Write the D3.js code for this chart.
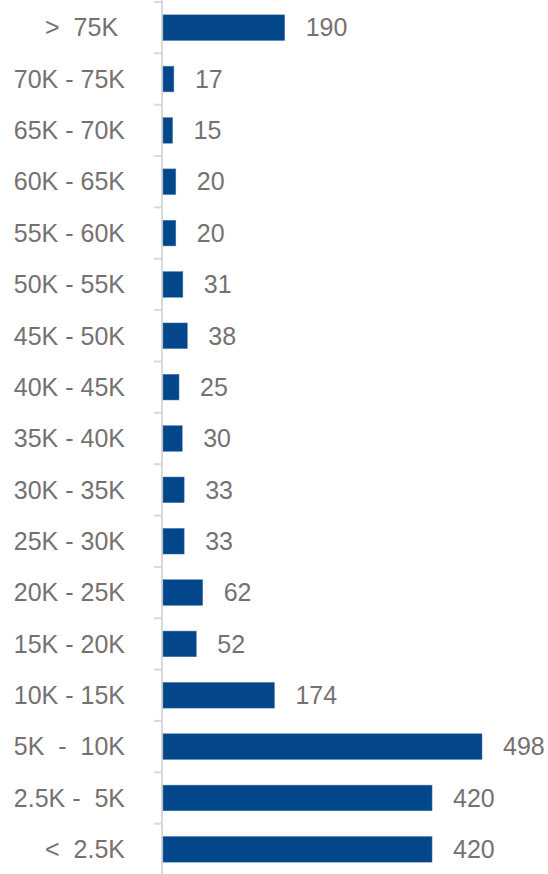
<!DOCTYPE html>
<html>
<head>
<meta charset="utf-8">
<script src="https://cdn.jsdelivr.net/npm/d3@7"></script>
<style>
  html, body { margin: 0; padding: 0; background: #fff; }
  svg { display: block; }
  text { font-family: "Liberation Sans", Arial, sans-serif; fill: #767171; white-space: pre; }
</style>
</head>
<body>
<svg id="chart" width="548" height="874"></svg>
<script>
// Income brackets, listed top to bottom
const categories = [">  75K ", "70K - 75K", "65K - 70K", "60K - 65K", "55K - 60K", "50K - 55K",
  "45K - 50K", "40K - 45K", "35K - 40K", "30K - 35K", "25K - 30K", "20K - 25K",
  "15K - 20K", "10K - 15K", "5K  -  10K", "2.5K -  5K", "<  2.5K"];
const values = [190, 17, 15, 20, 20, 31, 38, 25, 30, 33, 33, 62, 52, 174, 498, 420, 420];

const data = categories.map((c, i) => ({ category: c, value: values[i] }));

const svg = d3.select("#chart");
const axisX = 162;
const fontSize = 25;

const y = d3.scaleBand()
  .domain(categories)
  .range([2, 875])
  .paddingInner(0.5)
  .paddingOuter(0.25);

const x = d3.scaleLinear()
  .domain([0, 498])
  .range([axisX + 1, 482]);

const step = y.step();
const edge = d => y(d) - step * 0.25;

// Category axis: vertical rule with ticks between brackets
svg.append("line")
  .attr("x1", axisX).attr("x2", axisX)
  .attr("y1", 0).attr("y2", 874)
  .attr("stroke", "#d9d9d9").attr("stroke-width", 2);

svg.selectAll("line.tick")
  .data(categories)
  .join("line")
  .attr("class", "tick")
  .attr("x1", axisX - 8).attr("x2", axisX)
  .attr("y1", d => edge(d)).attr("y2", d => edge(d))
  .attr("stroke", "#d9d9d9").attr("stroke-width", 2);

// Bars
svg.selectAll("rect.bar")
  .data(data)
  .join("rect")
  .attr("class", "bar")
  .attr("x", x(0))
  .attr("y", d => y(d.category))
  .attr("width", d => x(d.value) - x(0))
  .attr("height", y.bandwidth())
  .attr("fill", "#03468a")
  .attr("stroke", "#4f7fb4")
  .attr("stroke-width", 0.5);

// Category labels
svg.selectAll("text.cat")
  .data(data)
  .join("text")
  .attr("class", "cat")
  .attr("x", 125)
  .attr("y", d => y(d.category) + y.bandwidth() / 2)
  .attr("dy", "0.35em")
  .attr("text-anchor", "end")
  .attr("font-size", fontSize)
  .text(d => d.category);

// Value labels
svg.selectAll("text.val")
  .data(data)
  .join("text")
  .attr("class", "val")
  .attr("x", d => x(d.value) + 21)
  .attr("y", d => y(d.category) + y.bandwidth() / 2)
  .attr("dy", "0.35em")
  .attr("font-size", fontSize)
  .text(d => d.value);
</script>
</body>
</html>
